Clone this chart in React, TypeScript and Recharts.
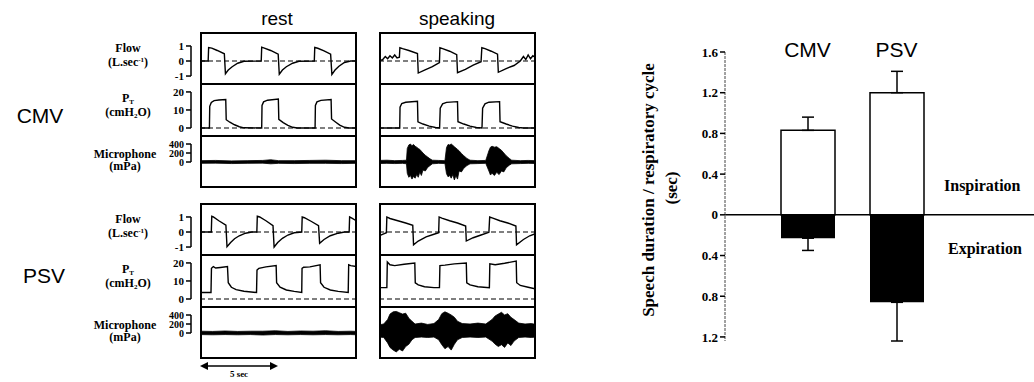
import React from "react"
import {
  LineChart,
  Line,
  ComposedChart,
  Area,
  XAxis,
  YAxis,
  ReferenceLine,
  BarChart,
  Bar,
  ErrorBar,
} from "recharts"

type Pt = [number, number]
type Band = [number, number, number]

// ---- bar chart: speech duration per respiratory cycle (sec) ----
const modes = ["CMV", "PSV"]
const inspiration = [0.83, 1.2]
const inspirationSD = [0.13, 0.21]
const expiration = [0.23, 0.86]
const expirationSD = [0.12, 0.38]
const barTicks = [-1.2, -0.8, -0.4, 0, 0.4, 0.8, 1.2, 1.6]

// ---- traces: [time (s), value] ----
const cmvRestFlow: Pt[] = [
  [0.1, 0], [0.52, 0], [0.55, 0.9], [0.75, 0.86], [1.1, 0.7], [1.55, 0.48], [1.62, -0.85], [1.8, -0.6],
  [2.05, -0.38], [2.4, -0.15], [2.8, -0.02], [3.9, 0], [3.93, 0.92], [4.1, 0.86], [4.5, 0.7], [4.98, 0.46],
  [5.05, -0.88], [5.25, -0.6], [5.5, -0.38], [5.9, -0.15], [6.3, -0.02], [7.28, 0], [7.31, 0.9], [7.5, 0.85],
  [7.9, 0.68], [8.32, 0.45], [8.4, -0.9], [8.6, -0.6], [8.85, -0.35], [9.2, -0.1], [9.6, 0], [10, 0],
]
const cmvRestPr: Pt[] = [
  [0.1, 0], [0.6, 0], [0.62, 12], [0.72, 14.2], [0.9, 15.2], [1.2, 15.5], [1.64, 15.8], [1.67, 4.6],
  [1.9, 3.2], [2.2, 1.8], [2.5, 0.7], [2.8, 0.1], [3.93, 0], [3.95, 12.5], [4.05, 14.5], [4.3, 15.4],
  [4.99, 16], [5.02, 4.8], [5.3, 3], [5.6, 1.5], [5.9, 0.4], [6.2, 0], [7.33, 0], [7.35, 12.5],
  [7.45, 14.5], [7.7, 15.3], [8.35, 15.8], [8.38, 5], [8.65, 3.2], [8.9, 1.6], [9.2, 0.4], [9.5, 0], [10, 0],
]
const cmvRestMic: Band[] = [
  [0, -30, 30], [1, -25, 35], [2, -35, 25], [3, -30, 30], [4, -25, 35], [4.5, -40, 50], [5, -30, 30],
  [6, -35, 30], [7, -30, 35], [8, -30, 40], [9, -35, 30], [10, -30, 30],
]
const cmvSpeakFlow: Pt[] = [
  [0, 0.1], [0.2, 0.05], [0.4, 0.3], [0.55, 0.15], [0.7, 0.35], [0.85, 0.2], [1.0, 0.4], [1.15, 0.2],
  [1.3, 0.25], [1.33, 0.88], [1.5, 0.82], [1.9, 0.7], [2.45, 0.5], [2.5, -0.8], [2.9, -0.6], [3.4, -0.38],
  [3.85, -0.1], [3.88, 0.88], [4.05, 0.82], [4.5, 0.65], [4.95, 0.42], [5.0, -0.78], [5.5, -0.55], [6.0, -0.28],
  [6.5, -0.05], [6.55, 0.88], [6.75, 0.82], [7.15, 0.65], [7.55, 0.45], [7.6, -0.75], [8.1, -0.5], [8.6, -0.3],
  [9.0, 0], [9.2, 0.3], [9.35, 0.1], [9.5, 0.4], [9.65, 0.15], [9.8, 0.35], [10, 0.2],
]
const cmvSpeakPr: Pt[] = [
  [0, 0], [1.32, 0], [1.34, 11.5], [1.45, 13.6], [1.7, 14.3], [2.45, 14.8], [2.48, 3.4], [2.8, 2.2],
  [3.2, 1.0], [3.6, 0.3], [3.86, 0], [3.9, 11], [4.05, 13.4], [4.3, 14.2], [5.0, 14.6], [5.03, 3.5],
  [5.4, 2.2], [5.8, 1.0], [6.2, 0.3], [6.56, 0], [6.6, 11], [6.75, 13.4], [7.0, 14.3], [7.68, 14.6],
  [7.71, 3.5], [8.1, 2.2], [8.5, 1], [8.9, 0.3], [9.2, 0], [10, 0],
]
const cmvSpeakMic: Band[] = [
  [0, -35, 35], [0.5, -30, 40], [1.0, -35, 30], [1.5, -30, 35], [1.75, -40, 40], [1.8, -250, 300],
  [1.9, -340, 380], [2.0, -300, 400], [2.1, -380, 360], [2.2, -320, 390], [2.3, -360, 350], [2.4, -280, 330],
  [2.5, -340, 300], [2.6, -220, 280], [2.7, -300, 240], [2.8, -180, 200], [2.95, -200, 150], [3.1, -120, 110],
  [3.25, -80, 70], [3.4, -40, 40], [3.8, -30, 35], [4.2, -35, 30], [4.3, -260, 320], [4.4, -330, 390],
  [4.5, -300, 380], [4.6, -360, 400], [4.7, -280, 370], [4.8, -400, 340], [4.9, -300, 310], [5.0, -380, 280],
  [5.1, -200, 250], [5.25, -220, 190], [5.4, -140, 140], [5.6, -80, 80], [5.8, -40, 40], [6.3, -35, 30],
  [6.8, -30, 35], [7.0, -200, 250], [7.1, -290, 330], [7.2, -250, 350], [7.35, -300, 330], [7.5, -230, 340],
  [7.65, -280, 300], [7.8, -200, 260], [7.95, -220, 200], [8.1, -130, 140], [8.3, -70, 80], [8.45, -40, 40],
  [9, -35, 30], [9.5, -30, 35], [10, -35, 30],
]
const psvRestFlow: Pt[] = [
  [0.1, 0], [0.72, 0], [0.75, 1.05], [0.85, 1.0], [1.2, 0.75], [1.65, 0.45], [1.72, -0.98], [1.95, -0.7],
  [2.2, -0.45], [2.5, -0.25], [2.9, -0.08], [3.3, 0], [3.62, 0], [3.65, 1.05], [3.8, 1.0], [4.2, 0.75],
  [4.65, 0.42], [4.72, -1.0], [4.95, -0.7], [5.25, -0.42], [5.6, -0.2], [6.0, -0.05], [6.48, 0], [6.51, 1.0],
  [6.65, 0.95], [7.1, 0.7], [7.55, 0.42], [7.62, -0.75], [7.9, -0.5], [8.3, -0.25], [8.8, -0.08], [9.2, 0],
  [9.5, 0], [9.53, 1.0], [9.7, 0.9], [9.95, 0.75],
]
const psvRestPr: Pt[] = [
  [0.1, 3.6], [0.7, 3.6], [0.73, 17], [0.85, 18], [1.0, 17.2], [1.3, 17.5], [1.75, 18], [1.8, 9],
  [2.0, 6.5], [2.3, 5.2], [2.8, 4.3], [3.6, 3.6], [3.63, 16], [3.75, 17], [4.2, 17.8], [4.85, 18.6],
  [4.88, 9], [5.1, 6.6], [5.5, 5.0], [6.0, 4.2], [6.48, 3.6], [6.5, 17], [6.6, 17.6], [7.0, 17.8],
  [7.65, 19], [7.68, 9], [7.9, 6.5], [8.3, 5], [8.8, 4.2], [9.44, 3.6], [9.47, 19], [9.6, 18.5], [9.95, 18],
]
const psvRestMic: Band[] = [
  [0, -35, 40], [0.8, -40, 35], [1.6, -35, 45], [2.4, -40, 35], [3.2, -35, 40], [4.0, -45, 40],
  [4.8, -35, 50], [5.6, -40, 35], [6.4, -35, 45], [7.2, -40, 40], [8.0, -35, 50], [8.8, -40, 35],
  [9.6, -35, 40], [10, -40, 35],
]
const psvSpeakFlow: Pt[] = [
  [0, -0.25], [0.3, -0.12], [0.47, -0.05], [0.5, 1.0], [0.7, 0.9], [1.2, 0.75], [1.7, 0.6], [2.15, 0.45],
  [2.2, -0.85], [2.5, -0.6], [3.0, -0.32], [3.5, -0.15], [3.8, -0.05], [3.83, 1.0], [4.0, 0.92], [4.5, 0.75],
  [5.0, 0.6], [5.52, 0.4], [5.56, -0.6], [6.0, -0.38], [6.5, -0.2], [7.0, -0.02], [7.05, 1.0], [7.25, 0.92],
  [7.7, 0.75], [8.2, 0.6], [8.72, 0.4], [8.76, -0.85], [9.2, -0.5], [9.6, -0.25], [10, -0.1],
]
const psvSpeakPr: Pt[] = [
  [0, 6.3], [0.5, 6.3], [0.53, 20.5], [0.7, 19], [1.0, 18.5], [1.6, 19.3], [2.28, 20], [2.31, 9],
  [2.5, 7.8], [2.9, 6.8], [3.5, 6.3], [3.85, 6.3], [3.88, 18.5], [4.2, 18.8], [4.8, 19.5], [5.56, 20],
  [5.59, 9], [5.8, 7.8], [6.3, 6.8], [7.03, 6.3], [7.06, 19.5], [7.4, 19], [8.0, 19.8], [8.74, 21],
  [8.77, 9], [9.0, 7.5], [9.5, 6.5], [10, 5.5],
]
const psvSpeakMic: Band[] = [
  [0, -90, 180], [0.3, -100, 200], [0.55, -220, 300], [0.7, -320, 420], [0.9, -380, 470], [1.1, -420, 480],
  [1.3, -360, 450], [1.5, -400, 420], [1.7, -300, 440], [1.9, -250, 330], [2.1, -150, 260], [2.3, -100, 200],
  [2.7, -90, 220], [3.1, -100, 190], [3.5, -90, 210], [3.8, -150, 300], [4.0, -260, 430], [4.2, -350, 470],
  [4.4, -300, 440], [4.6, -380, 400], [4.8, -250, 350], [5.0, -150, 260], [5.3, -100, 210], [5.8, -90, 200],
  [6.3, -100, 220], [6.8, -90, 200], [7.2, -180, 300], [7.4, -250, 380], [7.6, -300, 420], [7.8, -260, 460],
  [8.0, -320, 400], [8.2, -220, 430], [8.4, -280, 350], [8.6, -180, 300], [8.9, -100, 220], [9.3, -90, 200],
  [9.7, -100, 210], [10, -90, 190],
]

const sans = "'Liberation Sans', Arial, sans-serif"
const serif = "'Liberation Serif', 'Times New Roman', serif"

const SUB_H = 52
const BOX_W = 157
const AXIS_W = 36

type Kind = "flow" | "pr" | "mic"
const scales: Record<Kind, { domain: [number, number]; ticks: number[] }> = {
  flow: { domain: [-1.53, 1.93], ticks: [-1, 0, 1] },
  pr: { domain: [-4.44, 24.4], ticks: [0, 10, 20] },
  mic: { domain: [-578, 578], ticks: [0, 200, 400] },
}

const makeBracketTick = (kind: Kind) => (props: any) => {
  const { y, payload, index } = props
  const s = scales[kind]
  const step = s.ticks[1] - s.ticks[0]
  const gap = (step * SUB_H) / (s.domain[1] - s.domain[0])
  const last = index >= s.ticks.length - 1
  return (
    <g>
      <text
        x={20}
        y={y}
        textAnchor="end"
        dominantBaseline="central"
        fontFamily={serif}
        fontWeight="bold"
        fontSize={kind === "mic" ? 10 : 11}
        fill="#000"
      >
        {payload.value}
      </text>
      <line x1={22} x2={27} y1={y} y2={y} stroke="#000" strokeWidth={1.5} />
      {!last && <line x1={27} x2={27} y1={y} y2={y - gap} stroke="#000" strokeWidth={1.5} />}
    </g>
  )
}

function Trace({ kind, line, band, axis }: { kind: Kind; line?: Pt[]; band?: Band[]; axis: boolean }) {
  const s = scales[kind]
  const width = axis ? BOX_W + AXIS_W : BOX_W
  const margin = { top: 0, right: 0, bottom: 0, left: 0 }
  const yAxis = (
    <YAxis
      type="number"
      domain={s.domain}
      ticks={s.ticks}
      hide={!axis}
      width={AXIS_W}
      interval={0}
      axisLine={false}
      tickLine={false}
      tick={makeBracketTick(kind)}
      allowDataOverflow
    />
  )
  const xAxis = <XAxis type="number" dataKey="t" domain={[0, 10]} hide allowDataOverflow />
  if (band) {
    const data = band.map(([t, lo, hi]) => ({ t, v: [lo, hi] }))
    return (
      <ComposedChart width={width} height={SUB_H} data={data} margin={margin}>
        {xAxis}
        {yAxis}
        <Area
          type="linear"
          dataKey="v"
          fill="#000"
          fillOpacity={1}
          stroke="#000"
          strokeWidth={0.8}
          dot={false}
          activeDot={false}
          isAnimationActive={false}
        />
      </ComposedChart>
    )
  }
  const data = (line || []).map(([t, v]) => ({ t, v }))
  return (
    <LineChart width={width} height={SUB_H} data={data} margin={margin}>
      {xAxis}
      {yAxis}
      <ReferenceLine y={0} stroke="#000" strokeWidth={1.2} strokeDasharray="5 3" />
      <Line
        type="linear"
        dataKey="v"
        stroke="#000"
        strokeWidth={1.4}
        dot={false}
        activeDot={false}
        isAnimationActive={false}
      />
    </LineChart>
  )
}

function Panel({ left, top, axis, flow, pr, mic }: {
  left: number
  top: number
  axis: boolean
  flow: Pt[]
  pr: Pt[]
  mic: Band[]
}) {
  const chartLeft = axis ? left - AXIS_W : left
  return (
    <>
      <div style={{ position: "absolute", left: chartLeft, top }}>
        <Trace kind="flow" line={flow} axis={axis} />
      </div>
      <div style={{ position: "absolute", left: chartLeft, top: top + SUB_H }}>
        <Trace kind="pr" line={pr} axis={axis} />
      </div>
      <div style={{ position: "absolute", left: chartLeft, top: top + 2 * SUB_H }}>
        <Trace kind="mic" band={mic} axis={axis} />
      </div>
      <div
        style={{
          position: "absolute",
          left,
          top,
          width: BOX_W,
          height: SUB_H * 3,
          border: "2px solid #000",
          boxSizing: "border-box",
        }}
      />
      <div style={{ position: "absolute", left, top: top + SUB_H - 1, width: BOX_W, height: 2, background: "#000" }} />
      <div style={{ position: "absolute", left, top: top + 2 * SUB_H - 1, width: BOX_W, height: 2, background: "#000" }} />
    </>
  )
}

function Txt({ x, y, size, bold, font, children }: any) {
  return (
    <div
      style={{
        position: "absolute",
        left: x,
        top: y,
        transform: "translate(-50%, -50%)",
        whiteSpace: "nowrap",
        fontFamily: font || serif,
        fontWeight: bold ? "bold" : "normal",
        fontSize: size,
        lineHeight: 1,
        color: "#000",
      }}
    >
      {children}
    </div>
  )
}

function SignalLabels({ top }: { top: number }) {
  const sup = { fontSize: 7, position: "relative" as const, top: -4 }
  const sub = { fontSize: 7, position: "relative" as const, top: 2 }
  return (
    <>
      <Txt x={128} y={top + 16} size={12} bold>Flow</Txt>
      <Txt x={128} y={top + 30} size={12} bold>
        (L.sec<span style={sup}>-1</span>)
      </Txt>
      <Txt x={128} y={top + 66} size={12} bold>
        P<span style={sub}>T</span>
      </Txt>
      <Txt x={128} y={top + 80} size={12} bold>
        (cmH<span style={sub}>2</span>O)
      </Txt>
      <Txt x={125} y={top + 122} size={12} bold>Microphone</Txt>
      <Txt x={125} y={top + 134} size={12} bold>(mPa)</Txt>
    </>
  )
}

const ModeTick = (props: any) => {
  const { x, y, payload } = props
  return (
    <text x={x} y={y + 13} textAnchor="middle" fontFamily={sans} fontSize={21} fill="#000">
      {payload.value}
    </text>
  )
}

export default function App() {
  const barData = modes.map((name, i) => ({
    name,
    insp: inspiration[i],
    inspErr: [0, inspirationSD[i]],
    exp: -expiration[i],
    expErr: [expirationSD[i], 0],
  }))
  const pad = { left: 38, right: 93 }

  return (
    <div style={{ position: "relative", width: 1034, height: 382, background: "#fff", overflow: "hidden" }}>
      <style>{`body{margin:0}`}</style>

      {/* left: recorded traces */}
      <Txt x={277} y={18} size={19} font={sans}>rest</Txt>
      <Txt x={457} y={18} size={19} font={sans}>speaking</Txt>
      <Txt x={40} y={115} size={21} font={sans}>CMV</Txt>
      <Txt x={44} y={275} size={21} font={sans}>PSV</Txt>
      <SignalLabels top={32} />
      <SignalLabels top={203} />

      <Panel left={200} top={32} axis flow={cmvRestFlow} pr={cmvRestPr} mic={cmvRestMic} />
      <Panel left={379} top={32} axis={false} flow={cmvSpeakFlow} pr={cmvSpeakPr} mic={cmvSpeakMic} />
      <Panel left={200} top={203} axis flow={psvRestFlow} pr={psvRestPr} mic={psvRestMic} />
      <Panel left={379} top={203} axis={false} flow={psvSpeakFlow} pr={psvSpeakPr} mic={psvSpeakMic} />

      <svg style={{ position: "absolute", left: 195, top: 358 }} width={100} height={24}>
        <line x1={9} x2={79} y1={8} y2={8} stroke="#000" strokeWidth={1.5} />
        <polygon points="5,8 13,4 13,12" fill="#000" />
        <polygon points="83,8 75,4 75,12" fill="#000" />
        <text x={44} y={19} textAnchor="middle" fontFamily={serif} fontWeight="bold" fontSize={9}>
          5 sec
        </text>
      </svg>

      {/* right: speech duration bar chart */}
      <div style={{ position: "absolute", left: 600, top: 0 }}>
        <BarChart width={434} height={382} data={barData} margin={{ top: 22, right: 0, bottom: 41, left: 60 }}>
          <XAxis
            xAxisId="a"
            dataKey="name"
            orientation="top"
            height={30}
            padding={pad}
            axisLine={false}
            tickLine={false}
            interval={0}
            tick={<ModeTick />}
          />
          <XAxis xAxisId="b" dataKey="name" orientation="top" hide padding={pad} />
          <YAxis
            type="number"
            domain={[-1.24, 1.6]}
            ticks={barTicks}
            width={65}
            interval={0}
            allowDataOverflow
            tickFormatter={(v: number) => String(Math.abs(v))}
            tick={{ fontFamily: serif, fontWeight: "bold", fontSize: 13, fill: "#000" }}
            tickSize={5}
            tickLine={{ stroke: "#000", strokeWidth: 1.5 }}
            axisLine={{ stroke: "#444", strokeDasharray: "3 1" }}
          />
          <ReferenceLine xAxisId="a" y={0} stroke="#000" strokeWidth={1.5} />
          <Bar xAxisId="a" dataKey="insp" fill="#fff" stroke="#000" strokeWidth={1.5} barSize={54} isAnimationActive={false}>
            <ErrorBar dataKey="inspErr" width={6} stroke="#000" strokeWidth={1.5} direction="y" isAnimationActive={false} />
          </Bar>
          <Bar xAxisId="b" dataKey="exp" fill="#000" barSize={54} isAnimationActive={false}>
            <ErrorBar dataKey="expErr" width={6} stroke="#000" strokeWidth={1.5} direction="y" isAnimationActive={false} />
          </Bar>
        </BarChart>
      </div>

      <Txt x={648} y={190} size={17} bold>
        <div style={{ transform: "rotate(-90deg)" }}>Speech duration / respiratory cycle</div>
      </Txt>
      <Txt x={671} y={188} size={17} bold>
        <div style={{ transform: "rotate(-90deg)" }}>(sec)</div>
      </Txt>
      <div style={{ position: "absolute", left: 944, top: 177, fontFamily: serif, fontWeight: "bold", fontSize: 16, whiteSpace: "nowrap" }}>
        Inspiration
      </div>
      <div style={{ position: "absolute", left: 948, top: 240, fontFamily: serif, fontWeight: "bold", fontSize: 16, whiteSpace: "nowrap" }}>
        Expiration
      </div>
    </div>
  )
}
